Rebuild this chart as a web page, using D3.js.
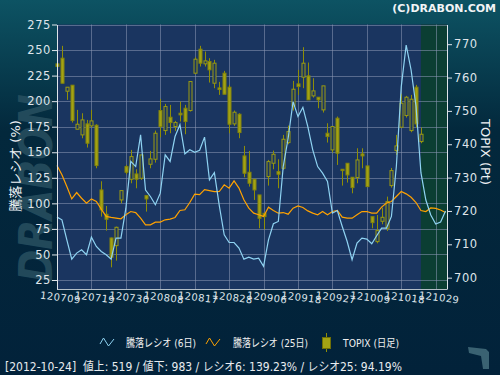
<!DOCTYPE html>
<html><head><meta charset="utf-8">
<script src="https://cdn.jsdelivr.net/npm/d3@7"></script>
<style>
html,body{margin:0;padding:0;background:#03253a;}
svg{display:block;}
text{font-family:"DejaVu Sans","Noto Sans CJK JP",sans-serif;}
</style></head>
<body>
<svg id="c" width="500" height="375"></svg>
<script>
// ---- data ----
const dateLabels = ['120709','120719','120730','120808','120817','120828','120906','120918','120927','121009','121018','121029'];
const leftTicks = [25,50,75,100,125,150,175,200,225,250,275];
const rightTicks = [700,710,720,730,740,750,760,770];
// TOPIX daily candles: open, close, high, low
const topixOpen  = [764.1,765.8,755.9,757.7,744.5,742.8,746.1,745.5,745.7,726.3,719.0,711.9,709.6,723.3,733.3,729.5,731.1,729.8,724.6,734.0,735.5,750.1,744.1,748.1,745.3,749.3,750.8,750.1,761.3,768.5,764.1,764.8,758.3,756.9,761.3,757.1,746.1,749.0,736.5,731.6,729.5,724.8,719.3,730.3,734.3,731.8,732.8,740.5,751.5,758.1,760.1,760.5,754.5,754.1,750.3,743.3,738.3,747.8,732.5,734.3,730.1,730.0,737.1,733.5,718.3,710.8,716.9,714.8,727.6,738.1,745.1,748.6,744.1,757.1,740.8];
const topixClose = [763.3,758.3,757.1,747.1,746.0,747.3,740.3,747.0,733.6,720.3,717.5,706.1,715.1,726.1,731.6,736.3,729.5,736.8,723.6,735.6,743.3,745.3,751.3,746.5,746.5,748.8,746.8,758.8,765.5,764.3,765.0,762.3,764.3,756.4,755.0,746.0,749.6,743.5,731.3,728.3,726.3,717.8,718.3,734.8,737.0,731.0,741.5,743.8,756.5,757.3,764.3,753.3,756.0,753.3,757.5,742.3,745.3,737.3,732.1,730.8,727.0,735.3,736.5,727.3,716.5,714.1,718.1,722.8,732.1,739.5,752.3,754.1,753.5,746.1,743.0];
const topixHigh  = [767.3,769.5,757.1,757.7,750.3,749.3,747.3,750.3,746.0,728.9,721.5,712.0,715.3,726.1,733.8,738.3,732.5,736.8,724.6,738.0,744.1,753.6,752.1,751.8,747.0,752.8,751.8,758.8,766.1,769.5,767.8,765.8,765.3,758.7,762.0,757.8,750.1,749.3,739.5,738.0,729.5,724.8,719.3,735.3,738.1,735.5,742.8,745.6,759.0,762.3,769.1,764.5,759.8,754.1,757.5,746.3,745.3,748.3,732.5,734.3,730.1,738.8,738.8,733.5,718.3,718.8,721.0,724.3,732.9,742.8,755.1,754.5,754.8,757.8,745.0];
const topixLow   = [763.3,758.3,753.3,746.5,744.5,741.8,739.0,745.0,732.8,718.3,714.1,703.1,705.1,722.3,731.0,728.3,726.8,729.3,719.8,732.8,734.5,742.1,742.8,743.3,744.0,746.8,743.0,749.8,761.0,763.3,763.3,758.5,756.8,754.8,755.0,743.3,745.5,741.8,730.1,727.3,723.3,714.8,714.5,727.6,732.5,726.8,732.3,740.0,750.1,754.8,756.8,753.3,754.0,750.8,749.5,740.5,737.5,733.8,727.6,728.5,725.3,728.3,732.8,727.3,714.8,710.3,716.0,714.0,727.0,736.8,745.0,748.0,743.6,745.0,740.3];
// 騰落レシオ
const ratio6  = [86.5,83.9,64.3,45.4,51.3,54.6,49.7,66.9,57.8,52.9,49.7,45.4,66,66,95,141,136,167,113,106.7,98.6,110,147.4,141,165.4,177,148.5,152.4,150,152,164.8,123,130,97.8,69.3,61.7,61.7,56.2,45.4,47.4,45.4,46.4,38.3,64.3,80,82.3,136,163.7,199.5,184.9,194,175.1,152.4,136,129.6,121.4,90.4,93,77.4,62.7,44.8,61.1,66,65,60.5,68.3,75.8,75.8,87.2,136,214.2,254.9,230.5,195,130,103.3,88.6,79.8,81.8,92.5];
const ratio25 = [137,127.9,116.5,104.4,110.6,105,100.2,104.4,101.8,94.3,87.2,86.2,85.5,84.9,88.8,92,91,85.5,79,79,81.6,81.6,83.9,84.6,86.2,93,93.7,100.8,109,108.5,113.5,112.5,111.5,111.6,118.1,114.9,122,114.9,103.5,95.3,90.4,88.8,87.2,96.3,93,90.4,91,89.4,95.3,97.5,95.9,92.6,90.4,88.8,92,88.8,92,93,86.5,85.5,85.5,88.8,92,92,90.4,90.4,96.3,100.2,101.8,106.7,111.6,109.3,106,100.8,93,92,95.5,95,93.5,91];
const lastDataIndex = 74;
const legendLabels = ['騰落レシオ (6日)','騰落レシオ (25日)','TOPIX (日足)'];
const statusText = '[2012-10-24]  値上: 519 / 値下: 983 / レシオ6: 139.23% / レシオ25: 94.19%';

// ---- layout ----
const svg = d3.select('#c');
const L = 57, R = 447, T = 24.5, B = 289;
const x = d3.scaleLinear().domain([0, 79.3]).range([L, R]);
const yL = d3.scaleLinear().domain([16.2, 275]).range([B, T]);
const yR = d3.scaleLinear().domain([696.6, 775.9]).range([B, T]);

const defs = svg.append('defs');
const g1 = defs.append('linearGradient').attr('id','bgg').attr('x1',0).attr('y1',0).attr('x2',0).attr('y2',1);
g1.append('stop').attr('offset','0%').attr('stop-color','#0d5363');
g1.append('stop').attr('offset','35%').attr('stop-color','#03283c');
g1.append('stop').attr('offset','100%').attr('stop-color','#02223a');
svg.append('rect').attr('width',500).attr('height',375).attr('fill','url(#bgg)');

// watermark
svg.append('text').attr('transform','translate(52,282) rotate(-90)')
  .attr('font-size',46).attr('font-weight','bold').attr('font-style','italic')
  .attr('textLength',188).attr('lengthAdjust','spacingAndGlyphs')
  .attr('fill','#2a5262').attr('opacity',0.8).text('DRABON');

// plot background
svg.append('rect').attr('x',L).attr('y',T).attr('width',R-L).attr('height',B-T).attr('fill','#1a3560');
svg.append('rect').attr('x',x(lastDataIndex)).attr('y',T).attr('width',R-x(lastDataIndex)).attr('height',B-T).attr('fill','#0b3e33');

// grid
const grid = svg.append('g').attr('stroke','#8d98b4').attr('stroke-opacity',0.55).attr('stroke-width',1);
leftTicks.forEach(v=>{ grid.append('line').attr('x1',L).attr('x2',R).attr('y1',Math.round(yL(v))+0.5).attr('y2',Math.round(yL(v))+0.5); });
dateLabels.forEach((d,k)=>{ if(k>0){ const xx=Math.round(x(k*7))+0.5; grid.append('line').attr('x1',xx).attr('x2',xx).attr('y1',T).attr('y2',B);} });

// candles
const cg = svg.append('g');
topixOpen.forEach((o,i)=>{
  const c = topixClose[i], h = topixHigh[i], l = topixLow[i];
  const cx = Math.round(x(i))+0.5;
  const up = c >= o;
  cg.append('line').attr('x1',cx).attr('x2',cx).attr('y1',yR(h)).attr('y2',yR(l)).attr('stroke','#8e8e08').attr('stroke-width',1);
  const top = yR(Math.max(o,c)), bot = yR(Math.min(o,c));
  cg.append('rect').attr('x',cx-1.5).attr('y',top).attr('width',3).attr('height',Math.max(1,bot-top))
    .attr('fill', up ? '#1a3560' : '#a3a314').attr('stroke', up ? '#9b9b10' : '#85850a').attr('stroke-width',1);
});

// lines
const line = d3.line().x((d,i)=>x(i));
svg.append('path').datum(ratio25).attr('d', line.y(d=>yL(d))).attr('fill','none').attr('stroke','#ffa200').attr('stroke-width',1.2);
svg.append('path').datum(ratio6).attr('d', line.y(d=>yL(d))).attr('fill','none').attr('stroke','#8fd3f2').attr('stroke-width',1.2);

// axes
const axColor = '#dfe4ea';
const ax = svg.append('g').attr('transform',`translate(${L},0)`)
  .call(d3.axisLeft(yL).tickValues(leftTicks).tickSize(5).tickSizeOuter(0).tickPadding(1));
const ar = svg.append('g').attr('transform',`translate(${R},0)`)
  .call(d3.axisRight(yR).tickValues(rightTicks).tickSize(5).tickSizeOuter(0).tickPadding(2));
[ax,ar].forEach(a=>{
  a.select('.domain').attr('stroke',axColor);
  a.selectAll('.tick line').attr('stroke',axColor);
  a.selectAll('.tick text').attr('fill',axColor).attr('font-size',11.5).attr('letter-spacing','0.6px').attr('font-family','"DejaVu Sans",sans-serif');
});
svg.append('line').attr('x1',L).attr('x2',R).attr('y1',B+0.5).attr('y2',B+0.5).attr('stroke',axColor).attr('stroke-opacity',0.8);

// bottom date labels
dateLabels.forEach((d,k)=>{
  svg.append('text').attr('transform',`translate(${x(k*7)+3},${B+12}) rotate(7)`)
    .attr('text-anchor','middle').attr('font-size',10).attr('letter-spacing','0.4px').attr('fill',axColor).text(d);
});

// axis titles
svg.append('text').attr('transform','translate(20,166) rotate(-90)').attr('text-anchor','middle')
  .attr('font-size',13).attr('fill','#eef2f5').attr('font-family','"Noto Sans CJK JP",sans-serif').text('騰落レシオ (%)');
svg.append('text').attr('transform','translate(481,152) rotate(90)').attr('text-anchor','middle')
  .attr('font-size',13).attr('fill','#eef2f5').text('TOPIX (Pt)');

// title
svg.append('text').attr('x',496).attr('y',12).attr('text-anchor','end').attr('font-size',11)
  .attr('font-weight','bold').attr('fill','#f2f4f6').text('(C)DRABON.COM');

// legend
const lg = svg.append('g');
const zig = [[0,5],[3.5,-1],[8.5,7],[14,0]];
[['#8fd3f2',100,legendLabels[0],126,70],['#ffa200',206,legendLabels[1],233,75]].forEach(([col,x0,label,tx,tl])=>{
  lg.append('path').attr('d', d3.line()(zig.map(p=>[x0+p[0], 339+p[1]]))).attr('fill','none').attr('stroke',col).attr('stroke-width',1);
  lg.append('text').attr('x',tx).attr('y',347).attr('font-size',11).attr('fill','#f0f0f0')
    .attr('textLength',tl).attr('lengthAdjust','spacingAndGlyphs')
    .attr('font-family','"Noto Sans CJK JP",sans-serif').text(label);
});
lg.append('line').attr('x1',326.5).attr('x2',326.5).attr('y1',333).attr('y2',352).attr('stroke','#8e8e08');
lg.append('rect').attr('x',322.5).attr('y',337.5).attr('width',8).attr('height',11).attr('fill','#a3a314').attr('stroke','#6f6f06');
lg.append('text').attr('x',343).attr('y',347).attr('font-size',11).attr('fill','#f0f0f0')
  .attr('textLength',56).attr('lengthAdjust','spacingAndGlyphs')
  .attr('font-family','"Noto Sans CJK JP",sans-serif').text(legendLabels[2]);

// status
svg.append('text').attr('x',5).attr('y',371).attr('font-size',12).attr('fill','#e8ecef')
  .attr('textLength',397).attr('lengthAdjust','spacingAndGlyphs')
  .attr('font-family','"Noto Sans CJK JP",sans-serif').attr('xml:space','preserve').text(statusText);

// corner icon
svg.append('path').attr('d','M468,347 L486,349 L489,352 L489,369 L483,369 L481,356 L469,353 Z').attr('fill','#3a6272');
</script>
</body></html>
